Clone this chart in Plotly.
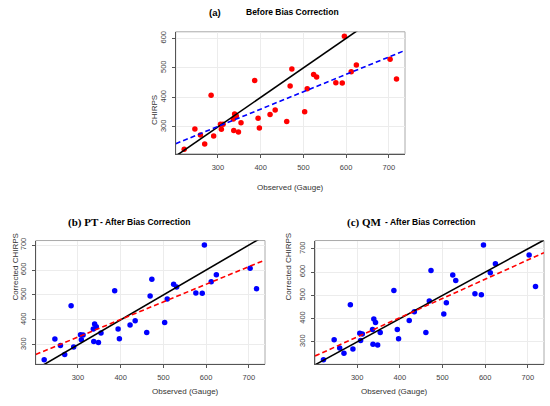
import numpy as np
import plotly.graph_objects as go

# observed gauge rainfall (same stations in all three panels)
observed = [221, 246, 259, 269, 284, 290, 306, 308, 312, 336, 339, 337, 343, 348, 354,
            386, 394, 397, 422, 434, 461, 469, 473, 503, 509, 524, 531, 576, 591, 596,
            612, 624, 703, 718]
# raw CHIRPS
chirps = [224, 293, 273, 242, 407, 269, 309, 292, 309, 327, 344, 288, 337, 283, 314,
          457, 329, 296, 342, 357, 318, 439, 496, 351, 429, 478, 469, 450, 449, 607,
          487, 510, 529, 462]
# power transformation corrected
chirps_pt = [240, 323, 297, 261, 457, 291, 340, 320, 339, 363, 383, 313, 372, 309, 347,
             517, 363, 324, 379, 396, 349, 496, 563, 389, 484, 543, 532, 508, 507, 700,
             553, 581, 607, 525]
# quantile mapping corrected
chirps_qm = [223, 309, 273, 251, 459, 269, 337, 306, 334, 353, 398, 290, 383, 286, 340,
             521, 353, 313, 392, 429, 340, 476, 607, 420, 468, 587, 564, 507, 502, 716,
             597, 636, 674, 538]

x_ticks = [300, 400, 500, 600, 700]
y_ticks_a = [300, 400, 500, 600]
y_ticks_bc = [300, 400, 500, 600, 700]

W, H = 550, 406


def px_x(p):
    return p / W


def px_y(p):
    return 1 - p / H


def rrange(v):
    # R style 4% padding
    lo, hi = min(v), max(v)
    d = (hi - lo) * 0.04
    return [lo - d, hi + d]


panels = [
    # data, point colour, fit colour, x domain px, y domain px, yticks
    (chirps, "#ff0000", "#0000ff", (175.7, 405), (29, 152), y_ticks_a),
    (chirps_pt, "#0000ff", "#ff0000", (35.7, 265), (239.3, 364), y_ticks_bc),
    (chirps_qm, "#0000ff", "#ff0000", (315, 544), (239.3, 364), y_ticks_bc),
]

fig = go.Figure()
layout = {}
xr = rrange(observed)
xs = np.array(xr)

for i, (yv, pcol, fcol, xd, yd, yt) in enumerate(panels):
    n = "" if i == 0 else str(i + 1)
    xa, ya = "x" + n, "y" + n
    yr = rrange(yv)
    slope, icpt = np.polyfit(observed, yv, 1)

    fig.add_trace(go.Scatter(x=observed, y=yv, mode="markers", xaxis=xa, yaxis=ya,
                             marker=dict(color=pcol, size=5.5), showlegend=False,
                             cliponaxis=False))
    fig.add_trace(go.Scatter(x=xs, y=xs, mode="lines", xaxis=xa, yaxis=ya,
                             line=dict(color="black", width=1.6), showlegend=False))
    fig.add_trace(go.Scatter(x=xs, y=slope * xs + icpt, mode="lines", xaxis=xa, yaxis=ya,
                             line=dict(color=fcol, width=1.6, dash="5px,3px"),
                             showlegend=False))

    common = dict(showline=True, linecolor="#555", linewidth=1, mirror=False,
                  ticks="outside", ticklen=3, tickcolor="#555",
                  gridcolor="#ececec", gridwidth=1, zeroline=False,
                  ticklabelstandoff=3,
                  tickfont=dict(family="Liberation Sans", size=7.5, color="#444"))
    layout["xaxis" + n] = dict(common, domain=[px_x(xd[0]), px_x(xd[1])], range=xr,
                               tickvals=x_ticks, anchor=ya)
    layout["yaxis" + n] = dict(common, domain=[px_y(yd[1]), px_y(yd[0])], range=yr,
                               tickvals=yt, tickangle=-90, anchor=xa)
    # light box on top/right
    fig.add_shape(type="rect", xref=xa + " domain", yref=ya + " domain",
                  x0=0, x1=1, y0=0, y1=1, line=dict(color="#aaa", width=1), layer="below")

    # axis titles
    fig.add_annotation(x=px_x((xd[0] + xd[1]) / 2), y=px_y(yd[1] + 34), xref="paper",
                       yref="paper", text="Observed (Gauge)", showarrow=False,
                       font=dict(family="Liberation Sans", size=8, color="#333"))
    ytitle = "CHIRPS" if i == 0 else "Corrected CHIRPS"
    fig.add_annotation(x=px_x(xd[0] - 27), y=px_y((yd[0] + yd[1]) / 2), xref="paper",
                       yref="paper", text=ytitle, showarrow=False, textangle=-90,
                       font=dict(family="Liberation Sans", size=8, color="#333"))

serif = dict(family="Liberation Serif", size=11, color="black")
sans = dict(family="Liberation Sans", size=8.5, color="black")
sans_a = dict(family="Liberation Sans", size=9.5, color="black")
titles = [
    ("<b>(a)</b>", 206.5, 9.5, sans_a, "<b>Before Bias Correction</b>", 244, sans),
    ("<b>(b) PT</b>", 66, 221, serif, "<b>- After Bias Correction</b>", 97.5, sans),
    ("<b>(c) QM</b>", 345, 221, serif, "<b>- After Bias Correction</b>", 383, sans),
]
for t1, x1, yy, f1, t2, x2, f2 in titles:
    fig.add_annotation(x=px_x(x1), y=px_y(yy), xref="paper", yref="paper", text=t1,
                       showarrow=False, xanchor="left", yanchor="middle", font=f1)
    fig.add_annotation(x=px_x(x2), y=px_y(yy), xref="paper", yref="paper", text=t2,
                       showarrow=False, xanchor="left", yanchor="middle", font=f2)

fig.update_layout(width=W, height=H, margin=dict(l=0, r=0, t=0, b=0),
                  paper_bgcolor="white", plot_bgcolor="white", **layout)
# browsers put an 8px margin on body; drop it so the figure sits at 0,0
fig.write_html("out.html", config={"displayModeBar": False},
               post_script="document.body.style.margin='0px';")
